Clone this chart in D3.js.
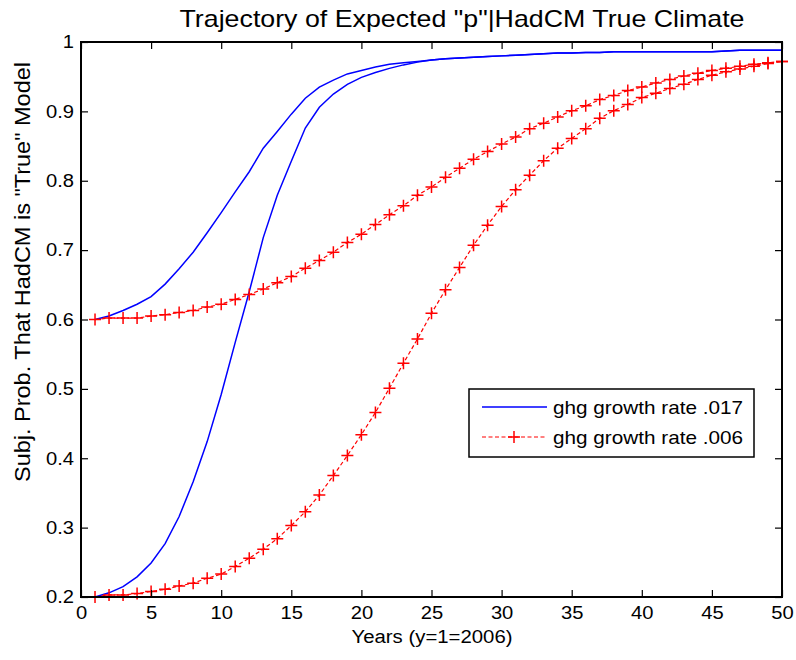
<!DOCTYPE html>
<html>
<head>
<meta charset="utf-8">
<script src="https://cdn.jsdelivr.net/npm/d3@7"></script>
<style>
  html, body { margin: 0; padding: 0; background: #fff; }
  svg { display: block; font-family: "Liberation Sans", Arial, sans-serif; }
</style>
</head>
<body>
<svg id="chart" width="796" height="660"></svg>
<script>
// Years 1..50
const years = d3.range(1, 51);

// ghg growth rate .017, prior 0.6
const blueHigh = [
  0.600, 0.605, 0.613, 0.622, 0.633, 0.651, 0.673, 0.697, 0.725, 0.754,
  0.784, 0.813, 0.847, 0.871, 0.896, 0.919, 0.935, 0.945, 0.954, 0.959,
  0.964, 0.968, 0.970, 0.972, 0.974, 0.976, 0.977, 0.978, 0.979, 0.980,
  0.981, 0.982, 0.983, 0.984, 0.984, 0.985, 0.985, 0.986, 0.986, 0.986,
  0.986, 0.986, 0.986, 0.986, 0.986, 0.987, 0.988, 0.988, 0.988, 0.988
];
// ghg growth rate .017, prior 0.2
const blueLow = [
  0.200, 0.206, 0.215, 0.229, 0.249, 0.277, 0.316, 0.366, 0.424, 0.492,
  0.567, 0.640, 0.718, 0.779, 0.828, 0.876, 0.906, 0.925, 0.939, 0.949,
  0.956, 0.962, 0.967, 0.971, 0.974, 0.976, 0.977, 0.978, 0.979, 0.980,
  0.981, 0.982, 0.983, 0.984, 0.984, 0.985, 0.985, 0.986, 0.986, 0.986,
  0.986, 0.986, 0.986, 0.986, 0.986, 0.987, 0.988, 0.988, 0.988, 0.988
];
// ghg growth rate .006, prior 0.6
const redHigh = [
  0.600, 0.602, 0.602, 0.602, 0.605, 0.607, 0.610, 0.613, 0.618, 0.622,
  0.629, 0.636, 0.644, 0.653, 0.662, 0.674, 0.685, 0.697, 0.711, 0.723,
  0.737, 0.751, 0.764, 0.779, 0.791, 0.805, 0.818, 0.831, 0.842, 0.853,
  0.863, 0.875, 0.883, 0.892, 0.901, 0.908, 0.917, 0.923, 0.930, 0.935,
  0.941, 0.946, 0.951, 0.955, 0.959, 0.962, 0.965, 0.968, 0.970, 0.972
];
// ghg growth rate .006, prior 0.2
const redLow = [
  0.200, 0.203, 0.203, 0.205, 0.208, 0.211, 0.216, 0.220, 0.227, 0.233,
  0.244, 0.256, 0.269, 0.284, 0.303, 0.323, 0.347, 0.375, 0.404, 0.434,
  0.466, 0.501, 0.537, 0.572, 0.609, 0.643, 0.675, 0.707, 0.736, 0.763,
  0.787, 0.808, 0.829, 0.847, 0.861, 0.875, 0.890, 0.901, 0.910, 0.920,
  0.926, 0.933, 0.939, 0.946, 0.952, 0.957, 0.961, 0.965, 0.969, 0.972
];

const xTicks = [0, 5, 10, 15, 20, 25, 30, 35, 40, 45, 50];
const yTicks = [0.2, 0.3, 0.4, 0.5, 0.6, 0.7, 0.8, 0.9, 1];
const legendLabels = ["ghg growth rate .017", "ghg growth rate .006"];

const titleText = 'Trajectory of Expected "p"|HadCM True Climate';
const xLabel = "Years (y=1=2006)";
const yLabel = 'Subj. Prob. That HadCM is "True" Model';

const L = 81, R = 782, T = 42, B = 597;
const x = d3.scaleLinear().domain([0, 50]).range([L, R]);
const y = d3.scaleLinear().domain([0.2, 1]).range([B, T]);

const svg = d3.select("#chart");
const BLUE = "#0000ff", RED = "#ff0000";
const FONT = '"Liberation Sans", Arial, sans-serif';

// widen glyphs a little, the way the exported figure text looks
const stretch = (sel, k) => sel.each(function () {
  const w = this.getComputedTextLength();
  d3.select(this).attr("textLength", w * k).attr("lengthAdjust", "spacingAndGlyphs");
});

// series lines
const line = d3.line().x((d, i) => x(years[i])).y(d => y(d));

const plot = svg.append("g");
plot.append("path").datum(blueHigh).attr("d", line)
  .attr("fill", "none").attr("stroke", BLUE).attr("stroke-width", 1.5);
plot.append("path").datum(blueLow).attr("d", line)
  .attr("fill", "none").attr("stroke", BLUE).attr("stroke-width", 1.5);

[redHigh, redLow].forEach(series => {
  plot.append("path").datum(series).attr("d", line)
    .attr("fill", "none").attr("stroke", RED).attr("stroke-width", 1.2)
    .attr("stroke-dasharray", "4,2.5");
  plot.append("g").selectAll("path").data(series).join("path")
    .attr("d", (d, i) => {
      const cx = x(years[i]), cy = y(d), s = 6;
      return `M${cx - s},${cy}H${cx + s}M${cx},${cy - s}V${cy + s}`;
    })
    .attr("stroke", RED).attr("stroke-width", 1.5).attr("fill", "none");
});

// axes with inward ticks on all four sides
const tickLen = 7;
const styleAxis = g => {
  g.select(".domain").remove();
  g.selectAll(".tick line").attr("stroke", "#000").attr("stroke-width", 1.2);
  g.selectAll(".tick text").attr("fill", "#000").style("font-size", "18px")
    .style("font-family", FONT).call(stretch, 1.12);
};

svg.append("g").attr("transform", `translate(0,${B})`)
  .call(d3.axisBottom(x).tickValues(xTicks).tickSize(-tickLen).tickPadding(9)
    .tickFormat(d3.format("d")))
  .call(styleAxis);
svg.append("g").attr("transform", `translate(0,${T})`)
  .call(d3.axisTop(x).tickValues(xTicks).tickSize(-tickLen).tickFormat(""))
  .call(styleAxis);
svg.append("g").attr("transform", `translate(${L},0)`)
  .call(d3.axisLeft(y).tickValues(yTicks).tickSize(-tickLen).tickPadding(7)
    .tickFormat(d => d === 1 ? "1" : d3.format(".1f")(d)))
  .call(styleAxis);
svg.append("g").attr("transform", `translate(${R},0)`)
  .call(d3.axisRight(y).tickValues(yTicks).tickSize(-tickLen).tickFormat(""))
  .call(styleAxis);

// plot box
svg.append("rect").attr("x", L).attr("y", T).attr("width", R - L).attr("height", B - T)
  .attr("fill", "none").attr("stroke", "#000").attr("stroke-width", 2);

// title and axis labels
svg.append("text").attr("x", 462).attr("y", 27)
  .attr("text-anchor", "middle").style("font-size", "24px").text(titleText)
  .attr("textLength", 565).attr("lengthAdjust", "spacingAndGlyphs");
svg.append("text").attr("x", 432).attr("y", 643)
  .attr("text-anchor", "middle").style("font-size", "18px").text(xLabel)
  .call(stretch, 1.13);
svg.append("text").attr("transform", `translate(30,272) rotate(-90)`)
  .attr("text-anchor", "middle").style("font-size", "22px").text(yLabel)
  .attr("textLength", 420).attr("lengthAdjust", "spacingAndGlyphs");

// legend
const lg = svg.append("g");
lg.append("rect").attr("x", 469).attr("y", 389).attr("width", 285).attr("height", 68)
  .attr("fill", "#fff").attr("stroke", "#000").attr("stroke-width", 1.5);
const ly = [407, 437];
lg.append("line").attr("x1", 482).attr("x2", 547).attr("y1", ly[0]).attr("y2", ly[0])
  .attr("stroke", BLUE).attr("stroke-width", 1.5);
lg.append("line").attr("x1", 482).attr("x2", 547).attr("y1", ly[1]).attr("y2", ly[1])
  .attr("stroke", RED).attr("stroke-width", 1.2).attr("stroke-dasharray", "4,2.5");
lg.append("path").attr("d", `M${514 - 6},${ly[1]}H${514 + 6}M514,${ly[1] - 6}V${ly[1] + 6}`)
  .attr("stroke", RED).attr("stroke-width", 1.5);
lg.selectAll("text.lab").data(legendLabels).join("text").attr("class", "lab")
  .attr("x", 553).attr("y", (d, i) => ly[i] + 7)
  .style("font-size", "19px").text(d => d)
  .attr("textLength", 190).attr("lengthAdjust", "spacingAndGlyphs");
</script>
</body>
</html>
